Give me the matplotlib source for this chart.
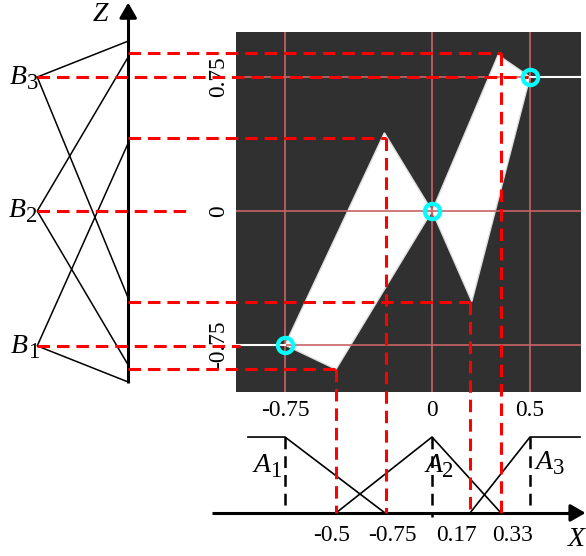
import matplotlib.pyplot as plt
from matplotlib.patches import Polygon

plt.rcParams['font.family'] = 'Liberation Serif'
plt.rcParams['lines.scale_dashes'] = False

# centre plot: grid, ticks and the white output region
grid_x = [-0.75, 0, 0.5]
grid_y = [-0.75, 0, 0.75]
x_tick_labels = ['-0.75', '0', '0.5']
y_tick_labels = ['-0.75', '0', '0.75']
left_piece = [(-0.75, -0.75), (-0.243, 0.438), (0, 0), (-0.49, -0.886)]
right_piece = [(0, 0), (0.337, 0.873), (0.5, 0.75), (0.203, -0.507)]
rule_x = [-0.75, 0, 0.5]
rule_y = [-0.75, 0, 0.75]

# output sets B1..B3 on the Z axis: (foot below, peak, foot above)
b_sets = [(-0.957, -0.755, 0.38),
          (-0.862, 0.0, 0.862),
          (-0.487, 0.75, 0.951)]
b_names = ['1', '2', '3']

# input sets A1..A3 on the X axis: (x, membership)
a_sets = [[(-0.939, 1), (-0.75, 1), (-0.24, 0)],
          [(-0.49, 0), (0, 1), (0.352, 0)],
          [(0.194, 0), (0.5, 1), (0.755, 1)]]
a_names = ['1', '2', '3']

# red projection lines
h_cut_y = [0.884, 0.75, 0.408, 0.0, -0.509, -0.755, -0.884]
h_cut_from = ['z', 'b', 'z', 'b', 'z', 'b', 'z']
h_cut_to = [0.35, 0.49, -0.235, -1.224, 0.194, -0.98, -0.49]
v_cut_x = [-0.49, -0.235, 0.194, 0.35]
v_cut_top = [-0.884, 0.408, -0.509, 0.884]
x_cut_labels = ['-0.5', '-0.75', '0.17', '0.33']
x_cut_label_x = [-0.51, -0.204, 0.125, 0.413]

fig = plt.figure(figsize=(5.86, 5.56), dpi=100)

L, B, W, H = 236 / 586, 164 / 556, 345 / 586, 360 / 556
xlim = (-1.0, 0.76)
ylim = (-1.013, 1.002)

ax = fig.add_axes([L, B, W, H])
ax.set_facecolor('#303030')
ax.set_xlim(*xlim)
ax.set_ylim(*ylim)
for s in ax.spines.values():
    s.set_visible(False)
ax.set_xticks(grid_x, x_tick_labels)
ax.set_yticks(grid_y, y_tick_labels)
ax.tick_params(length=0, labelsize=16.8, pad=6)
ax.tick_params(axis='y', labelrotation=90, pad=5)
for t in ax.get_yticklabels():
    t.set_va('center')
ax.add_patch(Polygon(left_piece, closed=True, fc='white', ec='#e0e0e0', lw=1, zorder=1))
ax.add_patch(Polygon(right_piece, closed=True, fc='white', ec='#e0e0e0', lw=1, zorder=1))
for gx in grid_x:
    ax.axvline(gx, color='#c86464', lw=1.2, zorder=2)
for gy in grid_y:
    ax.axhline(gy, color='#c86464', lw=1.2, zorder=2)

# overlay with the same data scale, covering the whole figure
sx = (xlim[1] - xlim[0]) / W
sy = (ylim[1] - ylim[0]) / H
ov = fig.add_axes([0, 0, 1, 1])
ov.set_xlim(xlim[0] - L * sx, xlim[0] - L * sx + sx)
ov.set_ylim(ylim[0] - B * sy, ylim[0] - B * sy + sy)
ov.axis('off')
ov.patch.set_visible(False)

z_axis_x = -1.55
b_width = 0.464
x_axis_y = -1.69
a_height = 0.425

# white tails and rule points
ov.plot([xlim[0], rule_x[0]], [rule_y[0], rule_y[0]], color='white', lw=1.5, zorder=3)
ov.plot([rule_x[-1], xlim[1]], [rule_y[-1], rule_y[-1]], color='white', lw=1.5, zorder=3)

# Z axis and output sets
ov.plot([z_axis_x, z_axis_x], [-0.962, 1.09], color='black', lw=2.2, solid_capstyle='butt')
ov.annotate('', xy=(z_axis_x, 1.166), xytext=(z_axis_x, 1.08),
            arrowprops=dict(arrowstyle='-|>,head_length=0.45,head_width=0.26',
                            color='black', lw=2.2, mutation_scale=20,
                            shrinkA=0, shrinkB=0))
for lo, pk, hi in b_sets:
    ov.plot([z_axis_x, z_axis_x - b_width, z_axis_x], [lo, pk, hi], color='black', lw=1.1)

# X axis and input sets
ov.plot([-1.122, 0.72], [x_axis_y, x_axis_y], color='black', lw=2.2, solid_capstyle='butt')
ov.annotate('', xy=(0.783, x_axis_y), xytext=(0.70, x_axis_y),
            arrowprops=dict(arrowstyle='-|>,head_length=0.45,head_width=0.26',
                            color='black', lw=2.2, mutation_scale=20,
                            shrinkA=0, shrinkB=0))
for pts in a_sets:
    ov.plot([p[0] for p in pts], [x_axis_y + p[1] * a_height for p in pts],
            color='black', lw=1.2)
for px in rule_x:
    bottom = x_axis_y - (0.025 if px == 0 else 0)
    ov.plot([px, px], [x_axis_y + a_height, bottom], color='black', lw=1.8,
            dashes=(8.5, 5))

# red projections
for y, src, x_end in zip(h_cut_y, h_cut_from, h_cut_to):
    x0 = z_axis_x if src == 'z' else z_axis_x - b_width
    ov.plot([x0, x_end], [y, y], color='red', lw=2.2, dashes=(9, 5), zorder=4)
for x, top in zip(v_cut_x, v_cut_top):
    ov.plot([x, x], [top, x_axis_y], color='red', lw=2.2, dashes=(9, 5), zorder=4)

ov.plot(rule_x, rule_y, 'o', ms=11, mfc='none', mec='#00ffff', mew=3, zorder=5)

# labels
def sym(x, y, letter, sub=None):
    ov.text(x, y, letter, ha='right' if sub else 'center', va='baseline',
            fontstyle='italic', fontsize=20)
    if sub:
        ov.text(x, y - 0.03, sub, ha='left', va='baseline', fontsize=16.5)

sym(-1.691, 1.063, 'Z')
sym(0.735, -1.875, 'X')
for (bx, by), n in zip([(-2.061, -0.795), (-2.071, -0.034), (-2.066, 0.711)], b_names):
    sym(bx, by, 'B', n)
for (axx, ayy), n in zip([(-0.824, -1.461), (0.051, -1.461), (0.617, -1.444)], a_names):
    sym(axx, ayy, 'A', n)
for lab, lx in zip(x_cut_labels, x_cut_label_x):
    ov.text(lx, -1.815, lab, ha='center', va='center', fontsize=16.8)

fig.savefig('out.png', dpi=100)
